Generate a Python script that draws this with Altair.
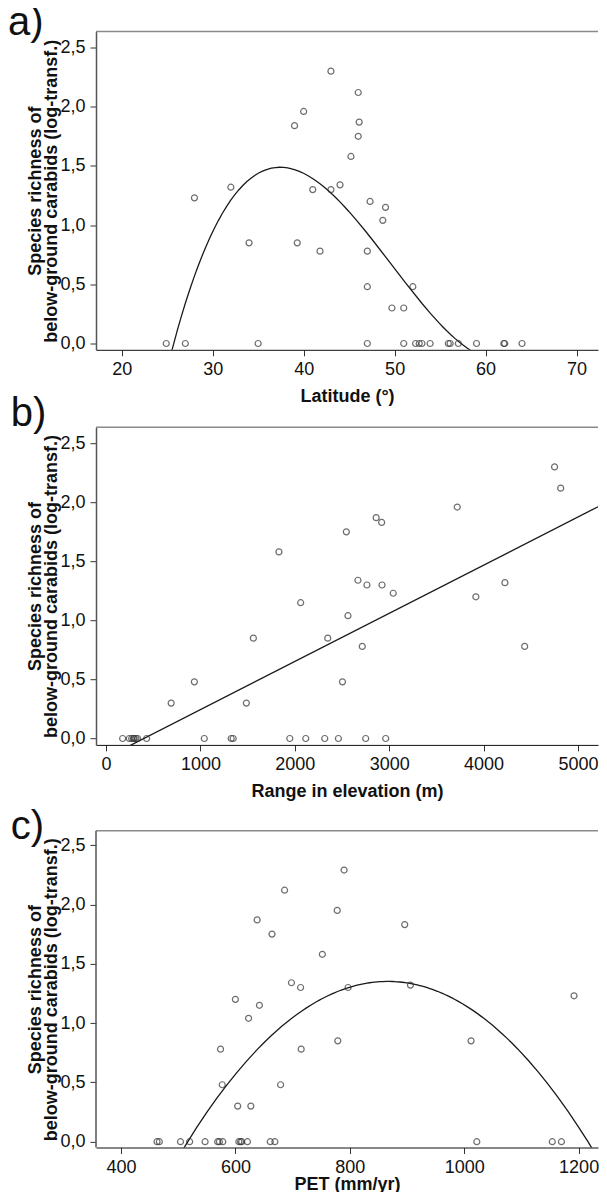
import altair as alt
import pandas as pd

# ---- data ----
lat_x = [43.0, 46.0, 40.0, 39.0, 46.1, 46.0, 45.2, 32.0, 41.0, 43.0, 44.0, 28.0, 47.3,
         49.0, 48.7, 34.0, 39.3, 41.8, 47.0, 47.0, 52.0, 49.7, 51.0,
         24.9, 27.0, 35.0, 47.0, 51.0, 52.3, 52.7, 53.0, 53.9, 55.9, 56.1, 57.0, 59.0,
         62.0, 62.1, 64.0]
lat_y = [2.30, 2.12, 1.96, 1.84, 1.87, 1.75, 1.58, 1.32, 1.30, 1.30, 1.34, 1.23, 1.20,
         1.15, 1.04, 0.85, 0.85, 0.78, 0.78, 0.48, 0.48, 0.30, 0.30,
         0, 0, 0, 0, 0, 0, 0, 0, 0, 0, 0, 0, 0, 0, 0, 0]

elev_x = [4752, 4817, 3721, 2862, 2920, 2546, 1832, 2669, 2764, 2924, 4226, 3043, 3918,
          2062, 2563, 1561, 2349, 2715, 4435, 936, 2505, 690, 1487,
          176, 247, 272, 290, 300, 317, 335, 430, 1041, 1326, 1347, 1947, 2116, 2317,
          2462, 2751, 2963]
elev_y = [2.30, 2.12, 1.96, 1.87, 1.83, 1.75, 1.58, 1.34, 1.30, 1.30, 1.32, 1.23, 1.20,
          1.15, 1.04, 0.85, 0.85, 0.78, 0.78, 0.48, 0.48, 0.30, 0.30,
          0, 0, 0, 0, 0, 0, 0, 0, 0, 0, 0, 0, 0, 0, 0, 0, 0]

pet_x = [790, 686, 638, 778, 896, 664, 752, 698, 714, 797, 906, 600, 642, 623, 1192,
         574, 779, 715, 1012, 577, 679, 604, 627,
         463, 467, 504, 520, 547, 569, 572, 578, 606, 609, 611, 621, 661, 669, 1022,
         1154, 1170]
pet_y = [2.29, 2.12, 1.87, 1.95, 1.83, 1.75, 1.58, 1.34, 1.30, 1.30, 1.32, 1.20, 1.15,
         1.04, 1.23, 0.78, 0.85, 0.78, 0.85, 0.48, 0.48, 0.30, 0.30,
         0, 0, 0, 0, 0, 0, 0, 0, 0, 0, 0, 0, 0, 0, 0, 0, 0]

y_ticks = [0, 0.5, 1.0, 1.5, 2.0, 2.5]
y_title = ["Species richness of", "below-ground carabids (log-transf.)"]

W = 502
LABEL_FONT = "Liberation Sans Narrow, Liberation Sans, Arial, sans-serif"
FONT = "Liberation Sans, Arial, sans-serif"


def panel(xs, ys, xtitle, xdomain, xticks, method, order, fit_extent, label, label_x,
          label_y, height, ydomain, top_offset, xtitle_y):
    df = pd.DataFrame({"x": xs, "y": ys})
    xscale = alt.Scale(domain=xdomain, nice=False, zero=False)
    yscale = alt.Scale(domain=ydomain, nice=False, zero=False)
    xenc = alt.X("x:Q", scale=xscale, title=xtitle,
                 axis=alt.Axis(values=xticks, format="d", titleY=xtitle_y,
                               titleBaseline="top", domainColor="#111"))
    yenc = alt.Y("y:Q", scale=yscale, title=y_title,
                 axis=alt.Axis(values=y_ticks, domain=(top_offset == 0),
                               labelExpr="replace(format(datum.value, '.1f'), '.', ',')",
                               titleAngle=270, titleAlign="center",
                               titleBaseline="alphabetic", titleX=-56,
                               titleY=top_offset + (height - top_offset) / 2,
                               titleLineHeight=16, domainColor="#555",
                               domainWidth=1.5))
    pts = alt.Chart(df).mark_point(shape="circle", filled=False, size=36,
                                   stroke="#303030", strokeWidth=1.2).encode(x=xenc, y=yenc)
    if method == "linear":
        reg = alt.Chart(df).transform_regression("x", "y", method="linear",
                                                 extent=fit_extent)
    else:
        reg = alt.Chart(df).transform_regression("x", "y", method="poly", order=order,
                                                 extent=fit_extent)
    line = reg.mark_line(color="#1a1a1a", strokeWidth=1.3, clip=True).encode(
        x=alt.X("x:Q", scale=xscale), y=alt.Y("y:Q", scale=yscale))
    one = pd.DataFrame({"k": [0]})
    border = alt.Chart(one).mark_rule(color="#8a8a8a", strokeWidth=1.6).encode(
        x=alt.value(0), x2=alt.value(W), y=alt.value(top_offset))
    layers = [border, line, pts]
    if top_offset > 0:
        left = alt.Chart(one).mark_rule(color="#555", strokeWidth=1.5).encode(
            x=alt.value(0), y=alt.value(top_offset), y2=alt.value(height))
        layers.append(left)
    txt = alt.Chart(one).mark_text(align="left", baseline="alphabetic", fontSize=40,
                                   font=LABEL_FONT, color="#111").encode(
        x=alt.value(label_x), y=alt.value(label_y), text=alt.value(label))
    layers.append(txt)
    return alt.layer(*layers).properties(width=W, height=height)


pa = panel(lat_x, lat_y, "Latitude (°)", [17.18, 72.35], [20, 30, 40, 50, 60, 70],
           "poly", 3, [17.18, 62.0], "a)", -88, 3, 318.3, [-0.053, 2.635], 0, 38)
pb = panel(elev_x, elev_y, "Range in elevation (m)", [-106, 5212],
           [0, 1000, 2000, 3000, 4000, 5000], "linear", 1, [-106, 5212], "b)", -85.3,
           -1.5, 317.7, [-0.054, 2.636], 0, 38)
pc = panel(pet_x, pet_y, "PET (mm/yr)", [356.3, 1233.9], [400, 600, 800, 1000, 1200],
           "poly", 2, [356.3, 1233.9], "c)", -85.3, 16.6, 325.6, [-0.049, 2.696], 8.9, 28)

chart = alt.vconcat(pa, pb, pc, spacing=76.7, bounds="flush").properties(
    padding={"left": 0, "top": -5.5, "right": 0, "bottom": -2}
).configure_view(stroke=None).configure_axis(
    grid=False,
    labelFont=FONT, labelFontSize=18, labelColor="#111",
    titleFont=FONT, titleFontSize=18, titleFontWeight="bold", titleColor="#111",
    tickSize=6, tickColor="#333", labelPadding=5,
)

chart.save("out.html", embed_options={"renderer": "svg", "actions": False})
